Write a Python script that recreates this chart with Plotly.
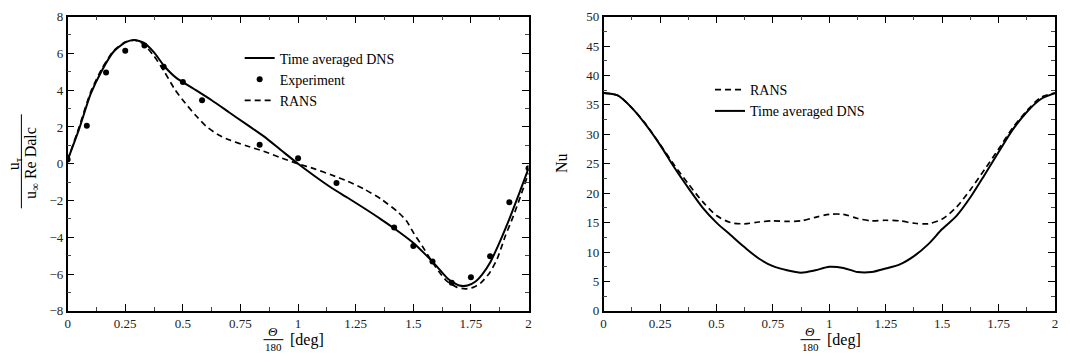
import plotly.graph_objects as go

W, H = 1070, 363

# ---------------- Left panel data ----------------
dns_left_x = [0, 0.05, 0.1, 0.15, 0.2, 0.25, 0.29, 0.33, 0.375, 0.42, 0.47, 0.55, 0.625, 0.7,
              0.775, 0.85, 0.925, 1.0, 1.07, 1.143, 1.215, 1.287, 1.36, 1.431, 1.503, 1.55,
              1.6, 1.65, 1.7, 1.735, 1.77, 1.8, 1.834, 1.87, 1.92, 1.96, 2.0]
dns_left_y = [0.2, 1.9, 3.8, 5.1, 6.1, 6.6, 6.73, 6.58, 6.05, 5.3, 4.68, 4.05, 3.45, 2.8,
              2.15, 1.5, 0.75, 0.0, -0.65, -1.29, -1.85, -2.42, -3.02, -3.64, -4.33, -4.9,
              -5.55, -6.25, -6.62, -6.62, -6.4, -6.0, -5.35, -4.4, -2.9, -1.6, -0.25]

rans_left_x = [0, 0.05, 0.1, 0.15, 0.2, 0.25, 0.29, 0.33, 0.375, 0.42, 0.467, 0.51, 0.554, 0.6,
               0.65, 0.7, 0.775, 0.85, 0.93, 1.0, 1.072, 1.143, 1.215, 1.287, 1.36, 1.431,
               1.47, 1.503, 1.54, 1.575, 1.61, 1.647, 1.69, 1.726, 1.76, 1.791, 1.83, 1.863,
               1.9, 1.934, 1.97, 2.0]
rans_left_y = [0.2, 2.0, 3.9, 5.2, 6.15, 6.62, 6.72, 6.5, 5.85, 5.0, 4.0, 3.3, 2.65, 2.05,
               1.6, 1.3, 0.98, 0.68, 0.3, 0.0, -0.28, -0.6, -0.95, -1.38, -1.92, -2.6,
               -3.1, -3.8, -4.5, -5.2, -5.85, -6.4, -6.72, -6.8, -6.72, -6.5, -5.95, -5.2,
               -3.9, -2.85, -1.6, -0.5]

exp_x = [0, 0.0833, 0.1667, 0.25, 0.3333, 0.4167, 0.5, 0.5833, 0.8333, 1.0, 1.1667,
         1.4167, 1.5, 1.5833, 1.6667, 1.75, 1.8333, 1.9167, 2.0]
exp_y = [0.23, 2.06, 4.96, 6.14, 6.43, 5.27, 4.44, 3.45, 1.03, 0.30, -1.05,
         -3.47, -4.47, -5.32, -6.47, -6.17, -5.03, -2.09, -0.25]

# ---------------- Right panel data ----------------
nu_x = [0, 0.0625, 0.125, 0.1875, 0.25, 0.3125, 0.375, 0.4375, 0.5, 0.5625, 0.625, 0.6875,
        0.75, 0.8125, 0.875, 0.9375, 1.0, 1.0625, 1.125, 1.1875, 1.25, 1.3125, 1.375,
        1.4375, 1.5, 1.5625, 1.625, 1.6875, 1.75, 1.8125, 1.875, 1.9375, 2.0]
nu_dns = [37.0, 36.6, 34.5, 31.6, 28.2, 24.4, 20.9, 17.6, 15.0, 12.9, 10.8, 8.9,
          7.6, 6.9, 6.5, 6.9, 7.5, 7.3, 6.6, 6.6, 7.2, 7.9, 9.3,
          11.3, 13.9, 16.1, 19.3, 23.1, 27.0, 30.8, 33.8, 36.0, 37.0]
nu_rans = [37.0, 36.6, 34.5, 31.7, 28.3, 24.8, 21.6, 18.6, 16.2, 15.0, 14.8, 15.1,
           15.3, 15.2, 15.3, 15.9, 16.4, 16.4, 15.7, 15.3, 15.4, 15.3, 14.9,
           14.8, 15.6, 17.6, 20.6, 24.0, 27.5, 31.1, 34.0, 36.3, 37.0]

x_tickvals = [0, 0.25, 0.5, 0.75, 1, 1.25, 1.5, 1.75, 2]
x_ticktext = ["0", "0.25", "0.5", "0.75", "1", "1.25", "1.5", "1.75", "2"]
left_yticks = [-8, -6, -4, -2, 0, 2, 4, 6, 8]
right_yticks = [0, 5, 10, 15, 20, 25, 30, 35, 40, 45, 50]

FONT = "Liberation Serif, Times New Roman, serif"
DASH = "6px,4px"

fig = go.Figure()

fig.add_trace(go.Scatter(x=dns_left_x, y=dns_left_y, mode="lines", name="Time averaged DNS",
                         line=dict(color="black", width=2, shape="spline", smoothing=0.6),
                         xaxis="x", yaxis="y", legend="legend"))
fig.add_trace(go.Scatter(x=exp_x, y=exp_y, mode="markers", name="Experiment",
                         marker=dict(color="black", size=6),
                         xaxis="x", yaxis="y", legend="legend"))
fig.add_trace(go.Scatter(x=rans_left_x, y=rans_left_y, mode="lines", name="RANS",
                         line=dict(color="black", width=1.7, dash=DASH, shape="spline", smoothing=0.6),
                         xaxis="x", yaxis="y", legend="legend"))

fig.add_trace(go.Scatter(x=nu_x, y=nu_rans, mode="lines", name="RANS",
                         line=dict(color="black", width=1.7, dash=DASH, shape="spline", smoothing=0.8),
                         xaxis="x2", yaxis="y2", legend="legend2"))
fig.add_trace(go.Scatter(x=nu_x, y=nu_dns, mode="lines", name="Time averaged DNS",
                         line=dict(color="black", width=2, shape="spline", smoothing=0.8),
                         xaxis="x2", yaxis="y2", legend="legend2"))

y_bot = 1 - 317 / H
y_top = 1 - 10 / H

axis_common = dict(
    showline=True, linecolor="black", linewidth=1.5, mirror="allticks",
    ticks="inside", ticklen=7, tickwidth=1, tickcolor="black",
    showgrid=False, zeroline=False,
    tickfont=dict(family=FONT, size=13, color="#222"),
    minor=dict(ticks="inside", ticklen=4, tickwidth=1, tickcolor="#444"),
)

fig.update_layout(
    width=W, height=H,
    margin=dict(l=0, r=0, t=0, b=0),
    paper_bgcolor="white", plot_bgcolor="white",
    font=dict(family=FONT, color="black"),
    xaxis=dict(domain=[65 / W, 528.5 / W], range=[0, 2], anchor="y",
               tickvals=x_tickvals, ticktext=x_ticktext, **axis_common),
    yaxis=dict(domain=[y_bot, y_top], range=[-8, 8], anchor="x",
               tickvals=left_yticks, **axis_common),
    xaxis2=dict(domain=[604 / W, 1058 / W], range=[0, 2], anchor="y2",
                tickvals=x_tickvals, ticktext=x_ticktext, **axis_common),
    yaxis2=dict(domain=[y_bot, y_top], range=[0, 50], anchor="x2",
                tickvals=right_yticks, **axis_common),
    legend=dict(x=238 / W, y=1 - 37 / H, xanchor="left", yanchor="top",
                bgcolor="rgba(0,0,0,0)", font=dict(family=FONT, size=14, color="black"),
                itemwidth=30, tracegroupgap=0),
    legend2=dict(x=711 / W, y=1 - 70 / H, xanchor="left", yanchor="top",
                 bgcolor="rgba(0,0,0,0)", font=dict(family=FONT, size=14, color="black"),
                 itemwidth=30, tracegroupgap=0),
)

fig.update_layout(
    xaxis_minor_dtick=0.125, xaxis2_minor_dtick=0.125,
    yaxis_minor_dtick=1, yaxis2_minor_dtick=2.5,
)

ann = []
shapes = []
# Left y-axis title: fraction u_tau / (u_inf Re Dalc), rotated
ann.append(dict(x=11 / W, y=1 - 163 / H, xref="paper", yref="paper", text="u<sub>τ</sub>",
                textangle=-90, showarrow=False, font=dict(family=FONT, size=16),
                xanchor="center", yanchor="middle"))
ann.append(dict(x=28 / W, y=1 - 163 / H, xref="paper", yref="paper", text="u<sub>∞</sub> Re Dalc",
                textangle=-90, showarrow=False, font=dict(family=FONT, size=16),
                xanchor="center", yanchor="middle"))
shapes.append(dict(type="line", xref="paper", yref="paper", x0=18.5 / W, x1=18.5 / W,
                   y0=1 - 112 / H, y1=1 - 210 / H, line=dict(color="black", width=1)))

# Right y-axis title
ann.append(dict(x=561 / W, y=1 - 163 / H, xref="paper", yref="paper", text="Nu",
                textangle=-90, showarrow=False, font=dict(family=FONT, size=16),
                xanchor="center", yanchor="middle"))

# x-axis titles: Θ/180 [deg]
for cx in (272, 812):
    ann.append(dict(x=cx / W, y=1 - 339 / H, xref="paper", yref="paper", text="<i>Θ</i>",
                    showarrow=False, font=dict(family=FONT, size=13),
                    xanchor="center", yanchor="middle"))
    ann.append(dict(x=cx / W, y=1 - 355 / H, xref="paper", yref="paper", text="180",
                    showarrow=False, font=dict(family=FONT, size=11),
                    xanchor="center", yanchor="middle"))
    shapes.append(dict(type="line", xref="paper", yref="paper", x0=(cx - 10) / W, x1=(cx + 10) / W,
                       y0=1 - 347 / H, y1=1 - 347 / H, line=dict(color="black", width=1)))
    ann.append(dict(x=(cx + 15) / W, y=1 - 347 / H, xref="paper", yref="paper", text="[deg]",
                    showarrow=False, font=dict(family=FONT, size=16),
                    xanchor="left", yanchor="middle"))

fig.update_layout(annotations=ann, shapes=shapes)

fig.write_html("out.html", config={"displayModeBar": False})

# remove the default page margin so the figure sits at the window origin
with open("out.html", "r", encoding="utf-8") as f:
    html = f.read()
html = html.replace("<head>", "<head><style>html,body{margin:0;padding:0;overflow:hidden;}</style>", 1)
with open("out.html", "w", encoding="utf-8") as f:
    f.write(html)
